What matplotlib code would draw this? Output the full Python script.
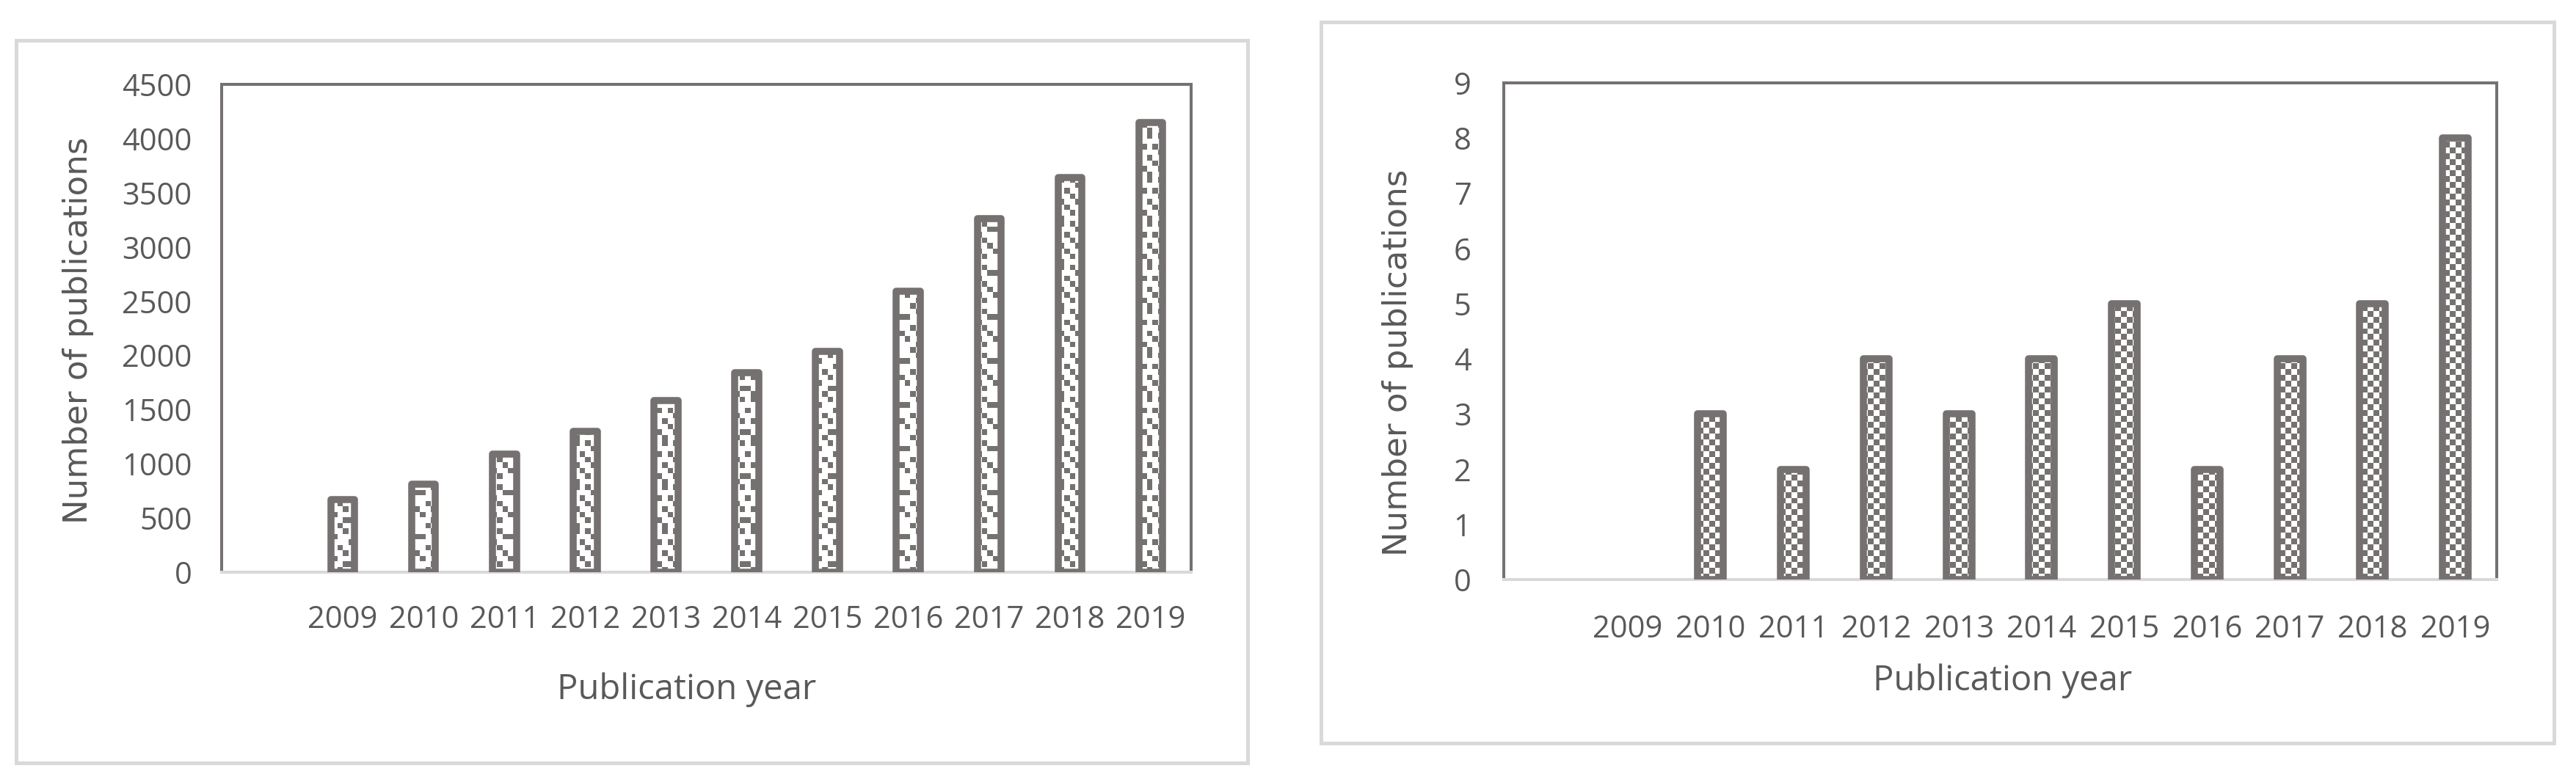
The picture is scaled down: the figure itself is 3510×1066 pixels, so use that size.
import numpy as np
import matplotlib
matplotlib.use("Agg")
import matplotlib.pyplot as plt
from matplotlib.colors import ListedColormap
from matplotlib.path import Path
from matplotlib.patches import Rectangle

# Data: first category is an empty slot, as in the original Excel charts
years = ["", "2009", "2010", "2011", "2012", "2013", "2014", "2015", "2016", "2017", "2018", "2019"]
all_pubs = [0, 670, 810, 1090, 1300, 1585, 1840, 2040, 2590, 3260, 3640, 4145]
topic_pubs = [0, 0, 3, 2, 4, 3, 4, 5, 2, 4, 5, 8]

W, H = 3510, 1066
DARK = "#767171"
BOX = "#d9d9d9"
TXT = "#595959"
LW = 6.9  # bar border, points

# fill patterns (1 = dark cell)
confetti = np.array([
    [1, 0, 0, 0, 0, 1, 0, 0],
    [0, 0, 1, 0, 0, 0, 1, 1],
    [0, 1, 0, 0, 1, 0, 0, 0],
    [1, 0, 0, 1, 0, 0, 1, 0],
    [0, 0, 1, 0, 0, 1, 0, 0],
    [0, 1, 0, 0, 0, 0, 0, 1],
    [0, 0, 0, 1, 1, 0, 0, 0],
    [1, 0, 1, 0, 0, 0, 1, 0],
])
checker = np.array([[1, 0], [0, 1]])


def frac(x0, y0, x1, y1):
    return [x0 / W, 1 - y1 / H, (x1 - x0) / W, (y1 - y0) / H]


def panel(ax, counts, ymax, step, tile, cell, bar_w, ypad, xpad, xlab_xy, ylab_xy):
    x = np.arange(len(years))
    bars = ax.bar(x, counts, width=bar_w, facecolor="none", edgecolor=DARK,
                  linewidth=LW, joinstyle="round", zorder=3)
    for b in bars:
        if b.get_height() == 0:
            b.set_visible(False)

    # pattern fill, clipped to the bars
    pos = ax.get_position()
    ncols = int(round(pos.width * W / cell))
    nrows = int(round(pos.height * H / cell))
    reps = (nrows // tile.shape[0] + 1, ncols // tile.shape[1] + 1)
    grid = np.tile(tile, reps)[:nrows, :ncols]
    im = ax.imshow(grid, extent=(-0.5, len(years) - 0.5, 0, ymax), origin="lower",
                   cmap=ListedColormap(["white", DARK]), vmin=0, vmax=1,
                   interpolation="nearest", aspect="auto", zorder=2)
    paths = [b.get_path().transformed(b.get_patch_transform()) for b in bars if b.get_height() > 0]
    im.set_clip_path(Path.make_compound_path(*paths), ax.transData)

    ax.set_xlim(-0.5, len(years) - 0.5)
    ax.set_ylim(0, ymax)
    ax.set_xticks(x)
    ax.set_xticklabels(years)
    ax.set_yticks(np.arange(0, ymax + step, step))
    ax.tick_params(axis="both", length=0, labelsize=30, labelcolor=TXT)
    ax.tick_params(axis="y", pad=ypad)
    ax.tick_params(axis="x", pad=xpad)
    for lab in ax.get_xticklabels() + ax.get_yticklabels():
        lab.set_family("Open Sans")

    for s in ["left", "top", "right"]:
        ax.spines[s].set_color(DARK)
        ax.spines[s].set_linewidth(2.9)
    ax.spines["bottom"].set_color(BOX)
    ax.spines["bottom"].set_linewidth(2.9)

    ax.set_xlabel("Publication year", fontsize=34, color=TXT, family="Open Sans")
    ax.xaxis.label.set_va("center")
    ax.xaxis.set_label_coords(*xlab_xy)
    ax.set_ylabel("Number of publications", fontsize=32.5, color=TXT, family="DejaVu Sans")
    ax.yaxis.label.set_va("center")
    ax.yaxis.set_label_coords(*ylab_xy)


fig = plt.figure(figsize=(W / 100, H / 100), dpi=100)

# outer chart frames
fig.add_artist(Rectangle((22 / W, 1 - 1040 / H), (1700 - 22) / W, (1040 - 55) / H,
                         transform=fig.transFigure, fill=False, ec=BOX, lw=3.6))
fig.add_artist(Rectangle((1800 / W, 1 - 1013 / H), (3480 - 1800) / W, (1013 - 30) / H,
                         transform=fig.transFigure, fill=False, ec=BOX, lw=3.6))

ax1 = fig.add_axes(frac(302, 115, 1623, 780))
panel(ax1, all_pubs, 4500, 500, confetti, 7.5, 0.295, 29, 32,
      ((936 - 302) / 1321, (780 - 940) / 665), ((107 - 302) / 1321, (780 - 450) / 665))

ax2 = fig.add_axes(frac(2049, 113, 3402, 790))
panel(ax2, topic_pubs, 9, 1, checker, 8, 0.31, 32, 34,
      ((2729 - 2049) / 1353, (790 - 928) / 677), ((1905 - 2049) / 1353, (790 - 494) / 677))

fig.savefig("out.png", dpi=100, facecolor="white")
